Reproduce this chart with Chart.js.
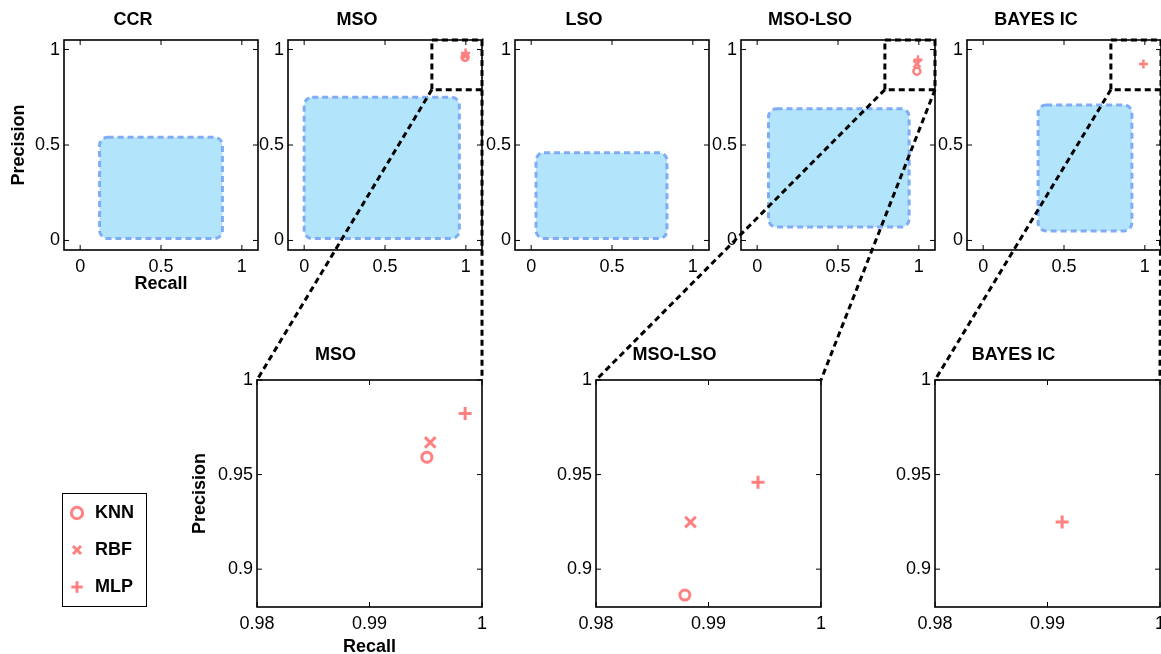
<!DOCTYPE html>
<html>
<head>
<meta charset="utf-8">
<script src="https://cdn.jsdelivr.net/npm/chart.js@4"></script>
<style>
body{margin:0;background:#fff;width:1161px;height:654px;overflow:hidden;position:relative}
canvas{position:absolute}
#legendBox{position:absolute;left:62px;top:493px;width:85px;height:114px;border:1.5px solid #000;box-sizing:border-box}
#overlay{pointer-events:none;z-index:10}
</style>
</head>
<body>
<div id="legendBox"></div>
<script>
//-------------------------------------------------- Data
const methods = ["KNN", "RBF", "MLP"];
const panels = ["CCR", "MSO", "LSO", "MSO-LSO", "BAYES IC"];
const zoomedPanels = ["MSO", "MSO-LSO", "BAYES IC"];

// spread of all runs per panel (blue areas)
const spreadRecall = [[0.12, 0.88], [0.0, 0.96], [0.03, 0.84], [0.07, 0.94], [0.34, 0.92]];
const spreadPrecision = [[0.01, 0.54], [0.01, 0.75], [0.01, 0.46], [0.07, 0.69], [0.05, 0.71]];

// best result of each classifier per panel (null = not shown)
const recallKNN = [null, 0.9951, null, 0.9879, null];
const precisionKNN = [null, 0.9592, null, 0.8863, null];
const recallRBF = [null, 0.9954, null, 0.9884, null];
const precisionRBF = [null, 0.9670, null, 0.9249, null];
const recallMLP = [null, 0.9985, null, 0.9944, 0.9913];
const precisionMLP = [null, 0.9823, null, 0.9460, 0.9249];

// magnifier window drawn in the overview panels
const magnifierRecall = [0.79, 1.1];
const magnifierPrecision = [0.79, 1.05];

const overviewRecallRange = [-0.1, 1.1];
const overviewPrecisionRange = [-0.05, 1.05];
const overviewTicks = [0, 0.5, 1];
const zoomRecallRange = [0.98, 1];
const zoomPrecisionRange = [0.88, 1];
const zoomRecallTicks = [0.98, 0.99, 1];
const zoomPrecisionTicks = [0.9, 0.95, 1];
//^^^^^^^^^^^^^^^^^^^^^^^^^^^^^^^^^^^^^^^^^^^^^^^^^^ Data

//-------------------------------------------------- Style
Chart.defaults.font.family = '"Liberation Sans", Arial, Helvetica, sans-serif';
Chart.defaults.font.size = 18;
Chart.defaults.color = "#000";
const RED = "#ff8080";
const BLUE_FILL = "rgb(178,228,251)";
const BLUE_EDGE = "rgb(128,172,246)";
const pointStyles = ["circle", "crossRot", "cross"];
const topRadius = [3.5, 5, 4.5];
const zoomRadius = [5, 7.5, 6.5];
const topLeft = [64, 288, 515, 741, 967];
const zoomLeft = [257, 596, 935];
//^^^^^^^^^^^^^^^^^^^^^^^^^^^^^^^^^^^^^^^^^^^^^^^^^^ Style

const fmt = v => String(Math.round(v * 100) / 100);
const recalls = [recallKNN, recallRBF, recallMLP];
const precisions = [precisionKNN, precisionRBF, precisionMLP];

function makeCanvas(left, top, w, h) {
	const c = document.createElement("canvas");
	c.width = w; c.height = h;
	c.style.left = left + "px"; c.style.top = top + "px";
	c.style.width = w + "px"; c.style.height = h + "px";
	document.body.appendChild(c);
	return c;
}

function line(ctx, x1, y1, x2, y2) {
	ctx.beginPath(); ctx.moveTo(x1, y1); ctx.lineTo(x2, y2); ctx.stroke();
}

// axes box with inward ticks (MATLAB look)
const framePlugin = {
	id: "frame",
	afterDraw(chart) {
		const {ctx, chartArea: a, scales: {x, y}} = chart;
		ctx.save();
		ctx.strokeStyle = "#000";
		ctx.lineWidth = 1;
		x.ticks.forEach(t => {
			const px = x.getPixelForValue(t.value);
			line(ctx, px, a.bottom, px, a.bottom - 5);
			line(ctx, px, a.top, px, a.top + 5);
		});
		y.ticks.forEach(t => {
			const py = y.getPixelForValue(t.value);
			line(ctx, a.left, py, a.left + 5, py);
			line(ctx, a.right, py, a.right - 5, py);
		});
		ctx.lineWidth = 1.6;
		ctx.strokeRect(a.left, a.top, a.width, a.height);
		ctx.restore();
	}
};

function spreadPlugin(i) {
	return {
		id: "spread",
		beforeDatasetsDraw(chart) {
			const {ctx, scales: {x, y}} = chart;
			const x1 = x.getPixelForValue(spreadRecall[i][0]), x2 = x.getPixelForValue(spreadRecall[i][1]);
			const y1 = y.getPixelForValue(spreadPrecision[i][1]), y2 = y.getPixelForValue(spreadPrecision[i][0]);
			ctx.save();
			ctx.beginPath();
			ctx.roundRect(x1, y1, x2 - x1, y2 - y1, 8);
			ctx.fillStyle = BLUE_FILL;
			ctx.fill();
			ctx.setLineDash([6, 4]);
			ctx.lineWidth = 3;
			ctx.strokeStyle = BLUE_EDGE;
			ctx.stroke();
			ctx.restore();
		}
	};
}

const magnifierPlugin = {
	id: "magnifier",
	afterDraw(chart) {
		const {ctx, scales: {x, y}} = chart;
		const x1 = x.getPixelForValue(magnifierRecall[0]), x2 = x.getPixelForValue(magnifierRecall[1]);
		const y1 = y.getPixelForValue(magnifierPrecision[1]), y2 = y.getPixelForValue(magnifierPrecision[0]);
		ctx.save();
		ctx.setLineDash([6, 4]);
		ctx.lineWidth = 3;
		ctx.strokeStyle = "#000";
		ctx.strokeRect(x1, y1, x2 - x1, y2 - y1);
		ctx.restore();
	}
};

function datasets(i, radii, bw) {
	return methods.map((m, k) => ({
		label: m,
		data: recalls[k][i] == null ? [] : [{x: recalls[k][i], y: precisions[k][i]}],
		pointStyle: pointStyles[k],
		pointRadius: radii[k],
		pointBorderWidth: bw,
		pointBorderColor: RED,
		pointBackgroundColor: "rgba(0,0,0,0)",
		borderColor: RED,
		backgroundColor: "rgba(0,0,0,0)"
	}));
}

function axis(range, ticks, fitSize, horizontal, title) {
	return {
		type: "linear", min: range[0], max: range[1],
		afterBuildTicks: s => { s.ticks = ticks.map(v => ({value: v})); },
		afterFit: s => {
			if (horizontal) { s.height = fitSize; s.paddingLeft = 0; s.paddingRight = 0; }
			else { s.width = fitSize; s.paddingTop = 0; s.paddingBottom = 0; }
		},
		ticks: {padding: horizontal ? 6 : 4, autoSkip: false, maxRotation: 0, callback: v => fmt(v)},
		grid: {display: false, drawTicks: false},
		border: {display: false},
		title: {display: !!title, text: title || "", font: {weight: "bold"}, padding: 0}
	};
}

function makePanel(canvas, name, i, opts) {
	const plugins = [framePlugin];
	if (!opts.zoom) plugins.unshift(spreadPlugin(i));
	if (opts.magnifier) plugins.push(magnifierPlugin);
	return new Chart(canvas.getContext("2d"), {
		type: "scatter",
		data: {datasets: datasets(i, opts.radii, opts.bw)},
		options: {
			responsive: false, animation: false, events: [],
			layout: {autoPadding: false, padding: {left: 0, right: opts.padRight, top: 0, bottom: 0}},
			plugins: {
				legend: {display: false}, tooltip: {enabled: false},
				title: {display: true, text: name, font: {weight: "bold", size: 18, lineHeight: 1.2}, padding: opts.titlePad}
			},
			scales: {
				x: axis(opts.xRange, opts.xTicks, opts.xHeight, true, opts.xTitle),
				y: axis(opts.yRange, opts.yTicks, opts.yWidth, false, opts.yTitle)
			}
		},
		plugins: plugins
	});
}

//-------------------------------------------------- Overview row
const topCharts = {};
panels.forEach((name, i) => {
	const c = makeCanvas(topLeft[i] - 56, 0, 56 + 194 + 4, 295);
	topCharts[name] = makePanel(c, name, i, {
		zoom: false, magnifier: zoomedPanels.includes(name),
		radii: topRadius, bw: 2.5, padRight: 4,
		titlePad: {top: 9, bottom: 9.4},
		xRange: overviewRecallRange, xTicks: overviewTicks, xHeight: 45, xTitle: i === 0 ? "Recall" : null,
		yRange: overviewPrecisionRange, yTicks: overviewTicks, yWidth: 56, yTitle: i === 0 ? "Precision" : null
	});
	topCharts[name].el = c;
});

//-------------------------------------------------- Zoomed row
const zoomCharts = {};
zoomedPanels.forEach((name, j) => {
	const i = panels.indexOf(name);
	const c = makeCanvas(zoomLeft[j] - 68, 340, 68 + 225 + 10, 318);
	zoomCharts[name] = makePanel(c, name, i, {
		zoom: true, magnifier: false,
		radii: zoomRadius, bw: 3, padRight: 10,
		titlePad: {top: 4, bottom: 14.4},
		xRange: zoomRecallRange, xTicks: zoomRecallTicks, xHeight: 51, xTitle: j === 0 ? "Recall" : null,
		yRange: zoomPrecisionRange, yTicks: zoomPrecisionTicks, yWidth: 68, yTitle: j === 0 ? "Precision" : null
	});
	zoomCharts[name].el = c;
});

//-------------------------------------------------- Legend
const lc = makeCanvas(49, 485, 130, 160);
new Chart(lc.getContext("2d"), {
	type: "scatter",
	data: {datasets: datasets(-1, zoomRadius, 3)},
	options: {
		responsive: false, animation: false, events: [],
		layout: {autoPadding: false},
		scales: {x: {display: false}, y: {display: false}},
		plugins: {
			tooltip: {enabled: false},
			legend: {
				display: true, position: "left", align: "start", maxWidth: 200,
				labels: {usePointStyle: true, boxWidth: 18, boxHeight: 8, padding: 19, font: {weight: "bold", size: 18}, color: "#000"}
			}
		}
	}
});

//-------------------------------------------------- Connector lines
const ov = makeCanvas(0, 0, 1161, 654);
ov.id = "overlay";
const octx = ov.getContext("2d");
octx.setLineDash([6, 4]);
octx.lineWidth = 3;
octx.strokeStyle = "#000";
zoomedPanels.forEach(name => {
	const t = topCharts[name], z = zoomCharts[name];
	const tx = t.el.offsetLeft, ty = t.el.offsetTop, zx = z.el.offsetLeft, zy = z.el.offsetTop;
	const yb = ty + t.scales.y.getPixelForValue(magnifierPrecision[0]);
	const xl = tx + t.scales.x.getPixelForValue(magnifierRecall[0]);
	const xr = tx + t.scales.x.getPixelForValue(magnifierRecall[1]);
	line(octx, xl, yb, zx + z.chartArea.left, zy + z.chartArea.top);
	line(octx, xr, yb, zx + z.chartArea.right, zy + z.chartArea.top);
});
</script>
</body>
</html>
